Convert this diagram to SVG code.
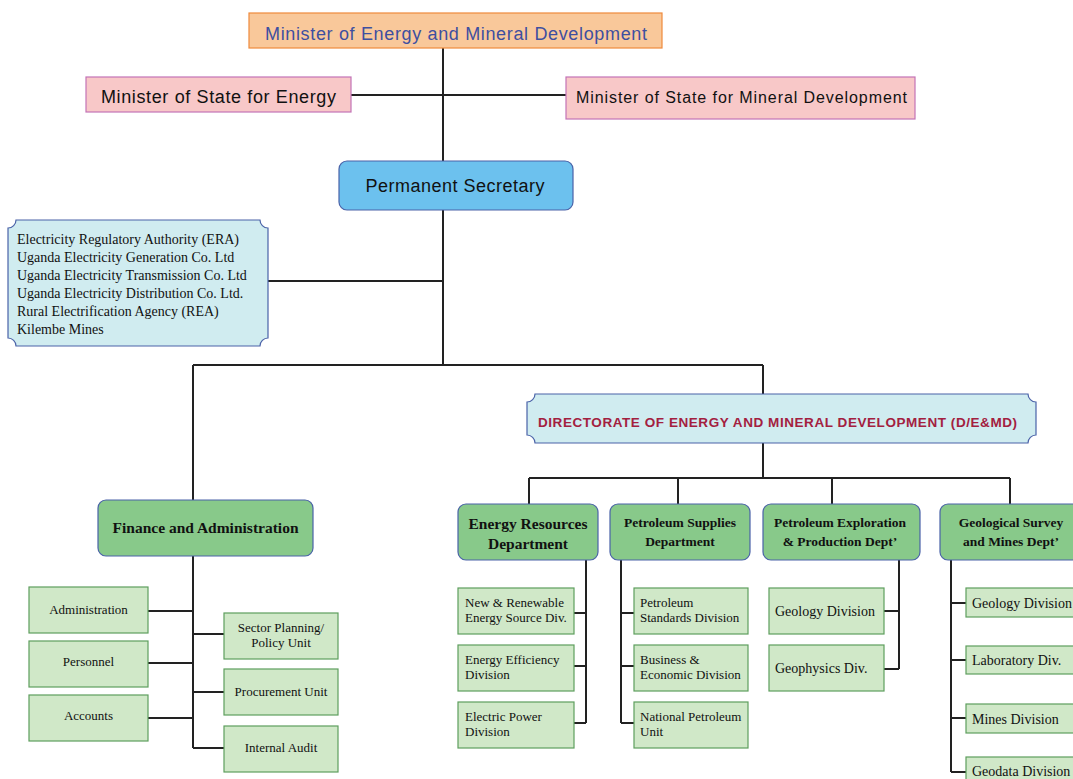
<svg xmlns="http://www.w3.org/2000/svg" width="1073" height="779" viewBox="0 0 1073 779">
  <style>
    .ln { stroke: #222; stroke-width: 2; fill: none; }
    .sans { font-family: "Liberation Sans", "Noto Sans", sans-serif; }
    .serif { font-family: "Liberation Serif", "Times New Roman", serif; }
    .dept rect { fill: #88c98a; stroke: #4a62a8; stroke-width: 1.2; }
    .dept text { font-family: "Liberation Serif", serif; font-weight: bold; fill: #111; text-anchor: middle; }
    .div rect { fill: #d0e8c8; stroke: #5e9e5e; stroke-width: 1.2; }
    .div text { font-family: "Liberation Serif", serif; font-size: 13px; fill: #111; }
    .div.big text { font-size: 14px; }
    .mid text { text-anchor: middle; }
  </style>

  <!-- connectors -->
  <g id="connectors">
    <path class="ln" d="M443 48 V365 M351 95 H566 M268 281 H443"/>
    <path class="ln" d="M193 365 H763 M193 365 V500 M763 365 V395"/>
    <path class="ln" d="M763 443 V478 M529 478 H1010 M529 478 V504 M678 478 V504 M832 478 V504 M1010 478 V504"/>
    <!-- finance units -->
    <path class="ln" d="M193 556 V748 M148 611 H193 M148 663 H193 M148 718 H193 M193 634 H224 M193 692 H224 M193 748 H224"/>
    <!-- energy resources -->
    <path class="ln" d="M586 560 V723 M574 613 H586 M574 666 H586 M574 723 H586"/>
    <!-- petroleum supplies -->
    <path class="ln" d="M621 560 V723 M621 613 H634 M621 666 H634 M621 723 H634"/>
    <!-- petroleum exploration -->
    <path class="ln" d="M899 560 V669 M884 611 H899 M884 669 H899"/>
    <!-- geological survey -->
    <path class="ln" d="M951 560 V772 M951 603 H966 M951 660 H966 M951 718 H966 M951 772 H966"/>
  </g>

  <!-- top level -->
  <g id="minister">
    <rect x="249" y="13" width="413" height="35" fill="#f9c89a" stroke="#ef8a3c" stroke-width="1.2"/>
    <text x="456" y="40" class="sans" font-size="18" fill="#3e4fa0" text-anchor="middle" textLength="382">Minister of Energy and Mineral Development</text>
  </g>
  <g id="state-energy">
    <rect x="86" y="77" width="265" height="35" fill="#f8c8c8" stroke="#c373b6" stroke-width="1.2"/>
    <text x="218.5" y="103" class="sans" font-size="18" fill="#111" text-anchor="middle" textLength="235">Minister of State for Energy</text>
  </g>
  <g id="state-mineral">
    <rect x="566" y="77" width="349" height="42" fill="#f8c8c8" stroke="#c373b6" stroke-width="1.2"/>
    <text x="741.5" y="103" class="sans" font-size="16" fill="#111" text-anchor="middle" textLength="331">Minister of State for Mineral Development</text>
  </g>
  <g id="permanent-secretary">
    <rect x="339" y="161" width="234" height="49" rx="8" fill="#6cc1ee" stroke="#4a62a8" stroke-width="1.2"/>
    <text x="455" y="192" class="sans" font-size="18" fill="#111" text-anchor="middle" textLength="179">Permanent Secretary</text>
  </g>

  <!-- agencies -->
  <g id="agencies">
    <path d="M16 220 H260 A8 8 0 0 0 268 228 V338 A8 8 0 0 0 260 346 H16 A8 8 0 0 0 8 338 V228 A8 8 0 0 0 16 220 Z" fill="#d0ecf0" stroke="#4a62a8" stroke-width="1.2"/>
    <g class="serif" font-size="14" fill="#111">
      <text x="17" y="244">Electricity Regulatory Authority (ERA)</text>
      <text x="17" y="262">Uganda Electricity Generation Co. Ltd</text>
      <text x="17" y="280">Uganda Electricity Transmission Co. Ltd</text>
      <text x="17" y="298">Uganda Electricity Distribution Co. Ltd.</text>
      <text x="17" y="316">Rural Electrification Agency (REA)</text>
      <text x="17" y="334">Kilembe Mines</text>
    </g>
  </g>

  <!-- directorate -->
  <g id="directorate">
    <path d="M535 394 H1028 A8 8 0 0 0 1036 402 V435 A8 8 0 0 0 1028 443 H535 A8 8 0 0 0 527 435 V402 A8 8 0 0 0 535 394 Z" fill="#d0ecf0" stroke="#4a62a8" stroke-width="1.2"/>
    <text x="777.5" y="427" class="sans" font-size="13.5" font-weight="bold" fill="#a3203f" text-anchor="middle" textLength="479">DIRECTORATE OF ENERGY AND MINERAL DEVELOPMENT (D/E&amp;MD)</text>
  </g>

  <!-- finance and administration -->
  <g id="finance" class="dept">
    <rect x="98" y="500" width="215" height="56" rx="8"/>
    <text x="205.5" y="533" font-size="15.5">Finance and Administration</text>
  </g>
  <g id="fin-administration" class="div mid"><rect x="29" y="587" width="119" height="46"/><text x="88.5" y="614">Administration</text></g>
  <g id="fin-personnel" class="div mid"><rect x="29" y="641" width="119" height="46"/><text x="88.5" y="666">Personnel</text></g>
  <g id="fin-accounts" class="div mid"><rect x="29" y="695" width="119" height="46"/><text x="88.5" y="720">Accounts</text></g>
  <g id="fin-sector-planning" class="div mid"><rect x="224" y="613" width="114" height="46"/><text x="281" y="632">Sector Planning/</text><text x="281" y="647">Policy Unit</text></g>
  <g id="fin-procurement" class="div mid"><rect x="224" y="669" width="114" height="46"/><text x="281" y="696">Procurement Unit</text></g>
  <g id="fin-internal-audit" class="div mid"><rect x="224" y="726" width="114" height="46"/><text x="281" y="752">Internal Audit</text></g>

  <!-- departments -->
  <g id="dept-energy" class="dept">
    <rect x="458" y="504" width="140" height="56" rx="8"/>
    <text x="528" y="529" font-size="15.5">Energy Resources</text>
    <text x="528" y="549" font-size="15.5">Department</text>
  </g>
  <g id="dept-petroleum-supplies" class="dept">
    <rect x="610" y="504" width="140" height="56" rx="8"/>
    <text x="680" y="527" font-size="13.5">Petroleum Supplies</text>
    <text x="680" y="546" font-size="13.5">Department</text>
  </g>
  <g id="dept-petroleum-exploration" class="dept">
    <rect x="763" y="504" width="157" height="56" rx="8"/>
    <text x="840" y="527" font-size="13.5">Petroleum Exploration</text>
    <text x="840" y="546" font-size="13.5">&amp; Production Dept’</text>
  </g>
  <g id="dept-geological" class="dept">
    <rect x="940" y="504" width="145" height="56" rx="8"/>
    <text x="1011" y="527" font-size="13.5">Geological Survey</text>
    <text x="1011" y="546" font-size="13.5">and Mines Dept’</text>
  </g>

  <!-- energy resources divisions -->
  <g id="div-renewable" class="div"><rect x="458" y="588" width="116" height="46"/><text x="465" y="607">New &amp; Renewable</text><text x="465" y="622">Energy Source Div.</text></g>
  <g id="div-efficiency" class="div"><rect x="458" y="645" width="116" height="46"/><text x="465" y="664">Energy Efficiency</text><text x="465" y="679">Division</text></g>
  <g id="div-electric-power" class="div"><rect x="458" y="702" width="116" height="46"/><text x="465" y="721">Electric Power</text><text x="465" y="736">Division</text></g>

  <!-- petroleum supplies divisions -->
  <g id="div-standards" class="div"><rect x="634" y="588" width="114" height="46"/><text x="640" y="607">Petroleum</text><text x="640" y="622">Standards Division</text></g>
  <g id="div-business" class="div"><rect x="634" y="645" width="114" height="46"/><text x="640" y="664">Business &amp;</text><text x="640" y="679">Economic Division</text></g>
  <g id="div-national-petroleum" class="div"><rect x="634" y="702" width="114" height="46"/><text x="640" y="721">National Petroleum</text><text x="640" y="736">Unit</text></g>

  <!-- petroleum exploration divisions -->
  <g id="div-geology-pe" class="div big"><rect x="769" y="588" width="115" height="46"/><text x="775" y="616">Geology Division</text></g>
  <g id="div-geophysics" class="div big"><rect x="769" y="645" width="115" height="46"/><text x="775" y="673">Geophysics Div.</text></g>

  <!-- geological survey divisions -->
  <g id="div-geology-gs" class="div big"><rect x="966" y="588" width="120" height="29"/><text x="972" y="608">Geology Division</text></g>
  <g id="div-laboratory" class="div big"><rect x="966" y="646" width="120" height="28"/><text x="972" y="665">Laboratory Div.</text></g>
  <g id="div-mines" class="div big"><rect x="966" y="704" width="120" height="29"/><text x="972" y="724">Mines Division</text></g>
  <g id="div-geodata" class="div big"><rect x="966" y="757" width="120" height="30"/><text x="972" y="776">Geodata Division</text></g>
</svg>
